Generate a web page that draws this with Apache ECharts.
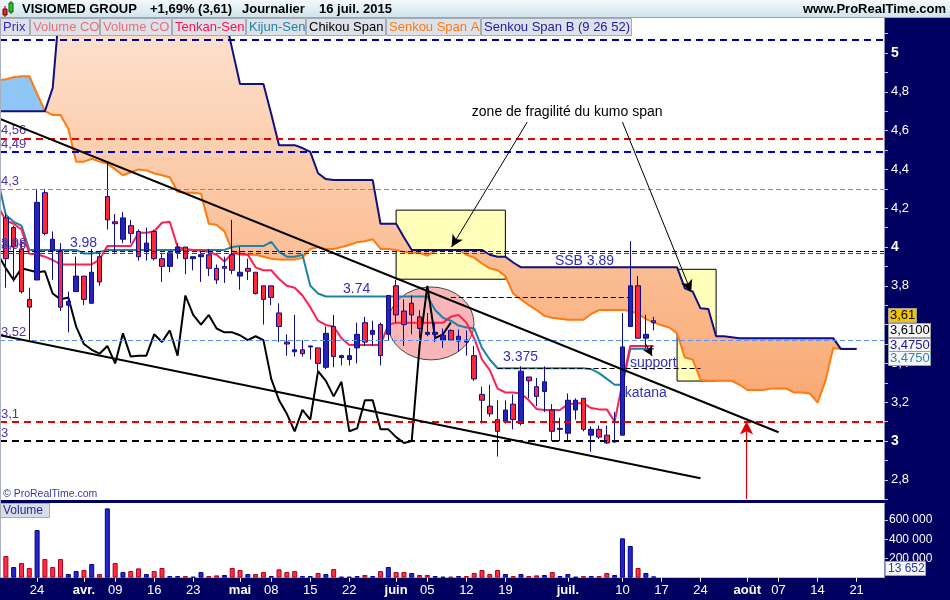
<!DOCTYPE html>
<html><head><meta charset="utf-8">
<script src="https://cdn.jsdelivr.net/npm/echarts@6/dist/echarts.min.js"></script>
<style>html,body{margin:0;padding:0;background:#fff}#c{width:950px;height:600px}</style>
</head><body><div id="c"></div>
<script>
// ---------------- DATA ----------------
const categories = ["03-17","03-18","03-19","03-20","03-23","03-24","03-25","03-26","03-27","03-30","03-31",
"04-01","04-02","04-07","04-08","04-09","04-10","04-13","04-14","04-15","04-16","04-17","04-20","04-21","04-22","04-23","04-24","04-27","04-28","04-29","04-30",
"05-04","05-05","05-06","05-07","05-08","05-11","05-12","05-13","05-14","05-15","05-18","05-19","05-20","05-21","05-22","05-25","05-26","05-27","05-28","05-29",
"06-01","06-02","06-03","06-04","06-05","06-08","06-09","06-10","06-11","06-12","06-15","06-16","06-17","06-18","06-19","06-22","06-23","06-24","06-25","06-26","06-29","06-30",
"07-01","07-02","07-03","07-06","07-07","07-08","07-09","07-10","07-13","07-14","07-15","07-16","07-17","07-20","07-21","07-22","07-23","07-24","07-27","07-28","07-29","07-30","07-31",
"08-03","08-04","08-05","08-06","08-07","08-10","08-11","08-12","08-13","08-14","08-17","08-18","08-19","08-20","08-21","08-24","08-25","08-26"];
const xTickLabels = {"03-24":"24","04-01":"avr.","04-09":"09","04-16":"16","04-23":"23","05-04":"mai","05-08":"08","05-15":"15","05-22":"22","06-01":"juin","06-05":"05","06-12":"12","06-19":"19","07-01":"juil.","07-10":"10","07-17":"17","07-24":"24","08-03":"août","08-07":"07","08-14":"14","08-21":"21"};
const monthLabels = ["avr.","mai","juin","juil.","août"];

const opens = [null,4.15,4.10,3.99,3.73,3.83,4.28,3.98,3.98,3.70,3.77,3.85,3.71,3.95,4.26,
4.13,4.04,4.11,4.08,3.98,4.08,3.94,3.90,3.97,4.00,
3.94,3.95,3.96,3.89,3.90,3.96,3.85,3.89,3.87,3.80,
3.80,3.66,3.51,3.46,3.47,3.485,3.48,3.38,3.59,3.43,
3.42,3.48,3.61,3.55,3.60,3.55,3.80,3.67,3.71,3.64,
3.55,3.55,3.52,3.57,3.515,3.51,3.44,3.24,3.18,3.11,
3.10,3.19,3.09,3.33,3.28,3.255,3.16,3.06,3.04,3.16,
3.22,3.03,3.06,3.03,2.995,3.03,3.59,3.80,3.53,3.62];
const highs = [null,4.17,4.11,4.03,3.79,4.30,4.30,4.08,4.02,3.77,3.95,3.85,3.99,3.97,4.44,
4.17,4.18,4.14,4.09,4.10,4.09,3.97,3.97,4.02,4.00,
3.95,3.98,3.99,3.91,3.95,4.14,4.00,3.94,3.87,3.80,
3.80,3.71,3.55,3.65,3.52,3.49,3.48,3.59,3.65,3.445,
3.48,3.61,3.64,3.62,3.61,3.75,3.83,3.73,3.75,3.675,
3.66,3.61,3.58,3.575,3.575,3.57,3.49,3.28,3.29,3.21,
3.21,3.24,3.385,3.33,3.325,3.385,3.19,3.12,3.245,3.22,
3.22,3.075,3.08,3.08,3.15,3.66,4.03,3.85,3.65,3.64];
const lows = [null,3.79,3.82,3.76,3.52,3.83,4.06,3.83,3.67,3.56,3.77,3.70,3.71,3.80,4.09,
3.97,4.02,4.02,3.93,3.93,3.93,3.82,3.87,3.94,3.86,
3.88,3.82,3.85,3.81,3.815,3.86,3.78,3.83,3.755,3.60,
3.70,3.51,3.44,3.435,3.435,3.42,3.34,3.37,3.38,3.39,
3.39,3.40,3.49,3.49,3.39,3.52,3.61,3.49,3.55,3.53,
3.54,3.51,3.48,3.515,3.46,3.44,3.31,3.09,3.125,2.92,
3.09,3.06,3.08,3.22,3.18,3.15,3.00,3.00,3.00,3.11,
3.05,2.945,3.01,2.985,2.99,3.03,3.59,3.53,3.48,3.57];
const closes = [null,3.94,4.00,3.77,3.69,4.23,4.07,4.04,3.69,3.72,3.85,3.73,3.87,3.82,4.14,
4.12,4.15,4.07,3.95,4.02,3.94,3.90,3.97,4.00,3.94,
3.95,3.96,3.89,3.83,3.89,3.88,3.87,3.875,3.76,3.73,
3.74,3.59,3.50,3.47,3.45,3.49,3.40,3.555,3.435,3.44,
3.44,3.55,3.51,3.57,3.44,3.75,3.65,3.60,3.65,3.58,
3.56,3.56,3.545,3.52,3.54,3.52,3.32,3.21,3.14,3.05,
3.16,3.11,3.36,3.31,3.23,3.305,3.05,3.065,3.21,3.21,
3.06,3.06,3.02,2.99,3.00,3.485,3.80,3.53,3.55,3.61];
const volumes = [null,226000,111000,153000,101000,496000,194000,111000,194000,38000,69000,80000,142000,38000,722000,
153000,59000,69000,97000,38000,69000,101000,17000,17000,17000,
10000,59000,17000,24000,28000,101000,80000,38000,38000,59000,
17000,87000,59000,69000,17000,17000,49000,38000,90000,10000,
10000,17000,28000,17000,69000,111000,59000,59000,49000,28000,
28000,17000,10000,10000,17000,17000,49000,80000,38000,80000,
38000,17000,38000,17000,24000,28000,59000,17000,38000,10000,
17000,17000,17000,49000,28000,410000,330000,101000,49000,13652];
const volumeUp = [0,0,1,0,0,1,0,0,0,1,1,0,1,0,1,
0,1,0,0,1,0,0,1,1,0,
1,1,0,0,1,0,0,1,0,0,
1,0,0,0,1,1,0,1,0,1,
1,1,0,1,0,1,0,0,1,0,
0,1,1,0,1,0,0,0,0,0,
1,0,1,0,0,1,0,1,1,1,
0,1,0,0,1,1,1,0,1,1];
const tenkan = [4.21,4.135,4.12,4.09,3.965,3.963,3.95,3.933,3.91,3.91,3.91,3.91,3.91,3.935,4.005,
4.005,4.005,4.005,4.074,4.074,4.08,4.125,4.13,4.0,3.99,
3.985,3.98,3.975,3.96,3.925,3.967,3.967,3.96,3.895,3.88,
3.88,3.835,3.80,3.79,3.75,3.69,3.62,3.598,3.59,3.53,
3.495,3.495,3.495,3.495,3.495,3.60,3.61,3.61,3.61,3.61,
3.61,3.61,3.61,3.64,3.65,3.61,3.53,3.42,3.365,3.27,
3.25,3.25,3.245,3.21,3.165,3.16,3.16,3.16,3.19,3.194,
3.194,3.17,3.163,3.163,3.10,3.30,3.49,3.49,3.49,3.49];
const kijun = [4.34,4.165,4.13,4.11,3.985,3.985,3.985,3.985,3.985,3.985,3.985,3.967,3.967,3.975,3.985,
3.985,3.985,3.985,3.985,3.985,3.985,3.985,3.985,3.985,3.985,
3.985,3.985,3.985,3.985,3.985,4.0,4.005,4.005,4.005,4.005,
4.027,3.975,3.95,3.95,3.96,3.80,3.76,3.745,3.745,3.745,
3.745,3.745,3.745,3.745,3.745,3.745,3.745,3.745,3.745,3.745,
3.745,3.675,3.635,3.62,3.595,3.585,3.58,3.48,3.42,3.375,
3.375,3.375,3.375,3.375,3.375,3.375,3.375,3.375,3.375,3.375,
3.375,3.37,3.35,3.32,3.29,3.29,3.475,3.475,3.475,3.475];
const senkouA = [4.86,4.865,4.875,4.88,4.88,4.79,4.70,4.68,4.68,4.61,4.44,4.44,4.455,4.44,4.43,
4.40,4.37,4.385,4.40,4.395,4.38,4.37,4.36,4.285,4.28,
4.28,4.275,4.12,4.115,4.08,3.98,3.96,3.96,3.96,3.95,
3.94,3.935,3.935,3.935,3.945,3.99,4.0,3.99,3.99,4.0,
4.01,4.025,4.03,4.04,3.99,3.99,3.985,3.975,3.97,3.97,
3.955,3.98,3.985,3.985,3.985,3.96,3.945,3.915,3.89,3.88,
3.85,3.76,3.73,3.70,3.675,3.645,3.635,3.63,3.625,3.625,
3.625,3.655,3.675,3.675,3.675,3.675,3.67,3.655,3.63,3.61,
3.597,3.585,3.555,3.43,3.42,3.315,3.31,3.31,3.31,3.31,
3.29,3.263,3.263,3.263,3.27,3.27,3.27,3.25,3.25,3.245,
3.198,3.31,3.48,3.476,3.476,3.476];
const senkouB = [4.70,4.70,4.70,4.70,4.70,4.70,4.70,4.82,5.3,5.3,5.3,5.3,5.3,5.3,5.3,
5.3,5.3,5.3,5.3,5.3,5.3,5.3,5.3,5.3,5.3,
5.3,5.3,5.3,5.3,5.2,5.02,4.84,4.84,4.84,4.84,
4.685,4.525,4.525,4.525,4.51,4.49,4.38,4.35,4.345,4.345,
4.345,4.345,4.345,4.345,4.12,4.12,4.12,4.05,3.985,3.985,
3.985,3.985,3.985,3.985,3.985,3.985,3.985,3.985,3.96,3.95,
3.95,3.92,3.895,3.895,3.895,3.895,3.895,3.895,3.895,3.895,
3.895,3.895,3.895,3.895,3.895,3.895,3.895,3.895,3.895,3.895,
3.895,3.895,3.895,3.787,3.77,3.684,3.68,3.54,3.54,3.535,
3.53,3.53,3.53,3.53,3.53,3.53,3.53,3.53,3.53,3.53,
3.53,3.53,3.53,3.474,3.474,3.474];
const priceTicks = [2.7,2.8,2.9,3,3.1,3.2,3.3,3.4,3.5,3.6,3.7,3.8,3.9,4,4.1,4.2,4.3,4.4,4.5,4.6,4.7,4.8,4.9,5,5.1];
const priceLabels = [2.8,3,3.2,3.4,3.6,3.8,4,4.2,4.4,4.6,4.8,5];
const volumeLabels = [200000,400000,600000];
const levelValues = [5.07,4.56,4.49,4.3,3.985,3.97,3.515,3.1,3];
const levelTexts = ['','4,56','4,49','4,3','3,98','3,96','3,52','3,1','3'];
const segments = [[53,76,3.74],[59,85,3.375]];
const trendlines = [[[-4.75,4.66],[95,3.045]],[[-4.75,3.545],[85,2.808]]];
const arrows = [[62.8,4.644,53.1,4.0],[75.0,4.644,83.8,3.768],[77.9,3.505,78.8,3.438],[90.9,2.70,90.9,3.1]];
const zones = [[46,60,4.19,3.834],[82,87,3.885,3.309]];
const ellipse = [50.47,3.606,5.51,0.188];
const notes = [['zone de fragilité du kumo span',55.7,4.696],['3.98',4.2,4.021],['3.74',39.2,3.783],['3.375',59.7,3.433],['SSB 3.89',66.35,3.928],['support',75.96,3.402],['katana',75.3,3.247]];
const priceTags = [['3,61',3.61],['3,6100',3.61],['3,4750',3.49],['3,4750',3.475]];
const volumeTag = ['13 652',13652];

// ---------------- BUILD ----------------
const FONT = '"Liberation Sans", Arial, sans-serif';
const first = categories.indexOf('03-24');          // trading-day index 0
const dayOf = (i) => i - first;
const xMin = -4.753, xMax = 108.51;
const pMin = 2.6959, pMax = 5.1804;
const labelDays = Object.keys(xTickLabels).map(k => dayOf(categories.indexOf(k)));
const labelByDay = {}; Object.keys(xTickLabels).forEach(k => { labelByDay[dayOf(categories.indexOf(k))] = xTickLabels[k]; });

const pairs = (arr) => arr.map((v,i)=> v == null ? null : [dayOf(i), v]).filter(Boolean);
const candles = opens.map((o,i)=> o == null ? null : [dayOf(i), o, closes[i], lows[i], highs[i]]).filter(Boolean);
const chikou = closes.slice(26).map((c,i)=>[dayOf(i), c]);
const kumoSegs = senkouA.slice(0,-1).map((a,i)=>[dayOf(i), a, senkouB[i], dayOf(i+1), senkouA[i+1], senkouB[i+1]]);
const peachGrad = new echarts.graphic.LinearGradient(0, 18, 0, 410, [{offset:0,color:'#fde2cf'},{offset:0.55,color:'#fbc29b'},{offset:1,color:'#f9a872'}], true);

const LS = [
 {c:'#0000a0',w:2,d:[7,5]},{c:'#e80000',w:2,d:[7,5]},{c:'#0000d8',w:2,d:[7,5]},
 {c:'#5b8ff5',w:1,d:[5,3]},{c:'#000000',w:1,d:[5,3]},{c:'#e80000',w:1,d:[5,3]},
 {c:'#5b8ff5',w:1,d:[5,3]},{c:'#e80000',w:2,d:[7,5]},{c:'#000000',w:2,d:[7,5]}];
const levelData = levelValues.map((v,i)=>({
  yAxis: v,
  lineStyle:{color:LS[i].c, width:LS[i].w, type:LS[i].d},
  label:{show: levelTexts[i] !== '', formatter: levelTexts[i], position:'insideStartTop', color:'#5530a0', fontSize:13, fontFamily:FONT, distance:[1,1]}
}));
segments.forEach(s=>{
  const st = {color:'#000', width:1, type:[5,3]};
  levelData.push([{coord:[s[0],s[2]], lineStyle:st, label:{show:false}},{coord:[s[1],s[2]], lineStyle:st}]);
});
const arrowData = arrows.map((a,i)=>{
  const red = i === 3;
  const st = {color: red ? '#e00000' : '#000', width: red ? 1.2 : 1, type:'solid'};
  return [{coord:[a[0],a[1]], symbol:'none', lineStyle:st},
          {coord:[a[2],a[3]], symbol:'arrow', symbolSize: red ? [10,13] : (i===2 ? [8,10] : [9,12]), lineStyle:st, itemStyle:{color: st.color}}];
});

const lineS = (data, color, z) => ({type:'line', xAxisIndex:0, yAxisIndex:0, data, symbol:'none', silent:true,
  lineStyle:{color, width:2}, z});

const option = {
  animation:false,
  backgroundColor:'#000060',
  textStyle:{fontFamily:FONT},
  grid:[
    {left:0, right:66, top:18, bottom:100, show:true, backgroundColor:'#ffffff', borderWidth:0},
    {left:0, right:66, top:503, bottom:22.3, show:true, backgroundColor:'#ffffff', borderWidth:0}
  ],
  xAxis:[
    {type:'value', gridIndex:0, min:xMin, max:xMax, show:false},
    {type:'value', gridIndex:1, min:xMin, max:xMax, splitLine:{show:false},
      axisLine:{show:false, onZero:false},
      axisTick:{show:true, customValues:labelDays, length:4, lineStyle:{color:'#ffffff'}},
      axisLabel:{customValues:labelDays, color:'#ffffff', fontSize:13, margin:6, fontFamily:FONT,
        formatter:(v)=>{const t = labelByDay[Math.round(v)]; return monthLabels.includes(t) ? '{m|'+t+'}' : t;},
        rich:{m:{fontWeight:'bold', color:'#ffffff', fontSize:13, fontFamily:FONT}}}}
  ],
  yAxis:[
    {type:'value', gridIndex:0, position:'right', min:pMin, max:pMax, splitLine:{show:false},
      axisLine:{show:true, onZero:false, lineStyle:{color:'#8c8cb4'}},
      axisTick:{show:true, customValues:priceTicks, length:4, lineStyle:{color:'#c0c0dc'}},
      axisLabel:{customValues:priceLabels, color:'#ffffff', fontSize:13, margin:7, fontFamily:FONT,
        formatter:(v)=>{const r = Math.round(v*10)/10; const s = String(r).replace('.',','); return Number.isInteger(r) ? '{b|'+s+'}' : s;},
        rich:{b:{fontWeight:'bold', color:'#ffffff', fontSize:14, fontFamily:FONT}}}},
    {type:'value', gridIndex:1, position:'right', min:0, max:778000, splitLine:{show:false},
      axisLine:{show:true, onZero:false, lineStyle:{color:'#8c8cb4'}},
      axisTick:{show:true, customValues:volumeLabels, length:4, lineStyle:{color:'#c0c0dc'}},
      axisLabel:{customValues:volumeLabels, color:'#ffffff', fontSize:12, margin:5, fontFamily:FONT,
        formatter:(v)=>String(v/1000)+' 000'}}
  ],
  series:[
    {type:'custom', xAxisIndex:0, yAxisIndex:0, data:kumoSegs, encode:{x:[0,3], y:[1,2,4,5]}, silent:true, clip:true, z:1,
      renderItem:(params, api)=>{
        const x0 = api.value(0), a0 = api.value(1), b0 = api.value(2), x1 = api.value(3), a1 = api.value(4), b1 = api.value(5);
        const pts = [api.coord([x0,a0]), api.coord([x1,a1]), api.coord([x1,b1]), api.coord([x0,b0])];
        const bull = (a0 + a1) > (b0 + b1);
        const fill = bull ? '#8ec6f6' : peachGrad;
        return {type:'polygon', shape:{points:pts}, style:{fill, stroke:fill, lineWidth:0.6}};
      }},
    {type:'line', xAxisIndex:0, yAxisIndex:0, data:[], z:1.5, silent:true,
      markArea:{silent:true, itemStyle:{color:'rgba(255,255,0,0.27)', borderColor:'#000', borderWidth:1},
        data: zones.map(zn=>[{coord:[zn[0],zn[2]]},{coord:[zn[1],zn[3]]}])}},
    {type:'line', xAxisIndex:0, yAxisIndex:0, data:[], z:2.5, silent:true,
      markLine:{silent:true, symbol:['none','none'], animation:false, data:levelData}},
    lineS(pairs(senkouA), '#ff7a10', 3),
    lineS(pairs(senkouB), '#10107e', 3),
    lineS(pairs(kijun), '#1f80a8', 3),
    lineS(pairs(tenkan), '#ff1f52', 3),
    lineS(chikou, '#000000', 3),
    {type:'candlestick', xAxisIndex:0, yAxisIndex:0, data:candles, encode:{x:0, y:[1,2,3,4]}, barWidth:5, silent:true, z:4,
      itemStyle:{color:'#2424b8', color0:'#ff2838', borderColor:'#0c0c88', borderColor0:'#0c0c88', borderWidth:1}},
    ...trendlines.map(t=>({type:'line', xAxisIndex:0, yAxisIndex:0, data:t, symbol:'none', silent:true, z:5,
      lineStyle:{color:'#000', width:2}})),
    {type:'line', xAxisIndex:0, yAxisIndex:0, data:[], z:6, silent:true,
      markLine:{silent:true, animation:false, label:{show:false}, data:arrowData}},
    {type:'bar', xAxisIndex:1, yAxisIndex:1, barWidth:5, silent:true, z:2,
      data: volumes.map((v,i)=> v == null ? null : ({value:[dayOf(i), v], itemStyle:{color: volumeUp[i] ? '#2626c8' : '#ff2c44', borderColor: volumeUp[i] ? '#00008a' : '#b0001c', borderWidth:1}})).filter(Boolean)}
  ]
};

const chart = echarts.init(document.getElementById('c'));
chart.setOption(option);

// ---------------- OVERLAYS ----------------
const P = (x,y) => chart.convertToPixel({xAxisIndex:0, yAxisIndex:0}, [x,y]);
const G = [];
G.push({type:'line', shape:{x1:0.5,y1:18,x2:0.5,y2:578}, style:{stroke:'#a8b0c0', lineWidth:1}, z:50});
{
  const c = P(ellipse[0], ellipse[1]);
  const rx = P(ellipse[0]+ellipse[2], ellipse[1])[0] - c[0];
  const ry = c[1] - P(ellipse[0], ellipse[1]+ellipse[3])[1];
  G.push({type:'circle', x:c[0], y:c[1], scaleY: ry/rx, shape:{cx:0, cy:0, r:rx},
    style:{fill:'#f8b6b8', stroke:'#3a3a3a', lineWidth:1}, z:1.6, silent:true});
}
notes.forEach((n,i)=>{
  const p = P(n[1], n[2]);
  G.push({type:'text', x:p[0], y:p[1], z:60, silent:true,
    style:{text:n[0], fill: i===0 ? '#000000' : '#3030b8', font:'14px '+FONT, textAlign:'left', textVerticalAlign:'middle', verticalAlign:'middle'}});
});
G.push({type:'rect', shape:{x:0,y:0,width:950,height:18}, z:70,
  style:{fill:new echarts.graphic.LinearGradient(0,0,0,1,[{offset:0,color:'#f2f9fc'},{offset:1,color:'#cfe2ec'}])}});
G.push({type:'line', shape:{x1:0,y1:17.5,x2:950,y2:17.5}, style:{stroke:'#98a6b2', lineWidth:1}, z:71});
G.push({type:'line', shape:{x1:5,y1:6,x2:5,y2:17}, style:{stroke:'#800000', lineWidth:1}, z:72});
G.push({type:'rect', shape:{x:3,y:9,width:4,height:6}, style:{fill:'#e02828', stroke:'#700000', lineWidth:1}, z:73});
G.push({type:'line', shape:{x1:11,y1:1,x2:11,y2:14}, style:{stroke:'#005000', lineWidth:1}, z:72});
G.push({type:'rect', shape:{x:9,y:3,width:4,height:9}, style:{fill:'#28c828', stroke:'#006000', lineWidth:1}, z:73});
[['VISIOMED GROUP',22],['+1,69% (3,61)',150],['Journalier',242],['16 juil. 2015',319]].forEach(t=>{
  G.push({type:'text', x:t[1], y:9, z:74, style:{text:t[0], fill:'#000', font:'bold 13px '+FONT, textVerticalAlign:'middle', verticalAlign:'middle'}});
});
G.push({type:'text', x:946, y:9, z:74, style:{text:'www.ProRealTime.com', fill:'#000', font:'bold 13px '+FONT, textAlign:'right', align:'right', textVerticalAlign:'middle', verticalAlign:'middle'}});
[['Prix',0,30,'#3a2ac0'],['Volume CO',30,100,'#e8707a'],['Volume CO',100,172,'#e8707a'],['Tenkan-Sen',172,246,'#ff1050'],
 ['Kijun-Sen',246,306,'#1f80a8'],['Chikou Span',306,386,'#000000'],['Senkou Span A',386,481,'#ff7a10'],['Senkou Span B (9 26 52)',481,632,'#2020a0']].forEach(b=>{
  G.push({type:'rect', shape:{x:b[1]+0.5,y:18.5,width:b[2]-b[1]-1,height:17}, style:{fill:'#dde2e8', stroke:'#a4acb8', lineWidth:1}, z:70});
  G.push({type:'text', x:b[1]+3, y:27.5, z:71, style:{text:b[0], fill:b[3], font:'13px '+FONT, textVerticalAlign:'middle', verticalAlign:'middle'}});
});
G.push({type:'rect', shape:{x:0.5,y:503.5,width:49,height:14}, style:{fill:'#d8dee6', stroke:'#a4acb8', lineWidth:1}, z:70});
G.push({type:'text', x:3, y:511, z:71, style:{text:'Volume', fill:'#2828a0', font:'12px '+FONT, textVerticalAlign:'middle', verticalAlign:'middle'}});
G.push({type:'text', x:3, y:494, z:60, style:{text:'© ProRealTime.com', fill:'#3a3aa0', font:'10.5px '+FONT, textVerticalAlign:'middle', verticalAlign:'middle'}});
const tagSt = [{bg:'#f5c400', fg:'#000', dy:-8, w:28},{bg:'#f6f6f6', fg:'#000', dy:7, w:42},{bg:'#f6f6f6', fg:'#1a1a90', dy:-1, w:42},{bg:'#f6f6f6', fg:'#2a86b0', dy:9, w:42}];
priceTags.forEach((t,i)=>{
  const y = chart.convertToPixel({yAxisIndex:0}, t[1]) + tagSt[i].dy;
  G.push({type:'rect', shape:{x:888.5,y:Math.round(y-7)+0.5,width:tagSt[i].w,height:14}, style:{fill:tagSt[i].bg, stroke:'#a0a0a0', lineWidth:1}, z:80+i});
  G.push({type:'text', x:890, y:Math.round(y)+0.5, z:80+i, style:{text:t[0], fill:tagSt[i].fg, font:'13px '+FONT, textVerticalAlign:'middle', verticalAlign:'middle'}});
});
{
  const y = chart.convertToPixel({yAxisIndex:1}, volumeTag[1]) - 8;
  G.push({type:'rect', shape:{x:885.5,y:Math.round(y-7)+0.5,width:40,height:14}, style:{fill:'#f6f6f6', stroke:'#a0a0a0', lineWidth:1}, z:80});
  G.push({type:'text', x:888, y:Math.round(y)+0.5, z:81, style:{text:volumeTag[0], fill:'#2a3ab0', font:'12px '+FONT, textVerticalAlign:'middle', verticalAlign:'middle'}});
}
chart.setOption({graphic:{elements:G}});
</script>
</body></html>
